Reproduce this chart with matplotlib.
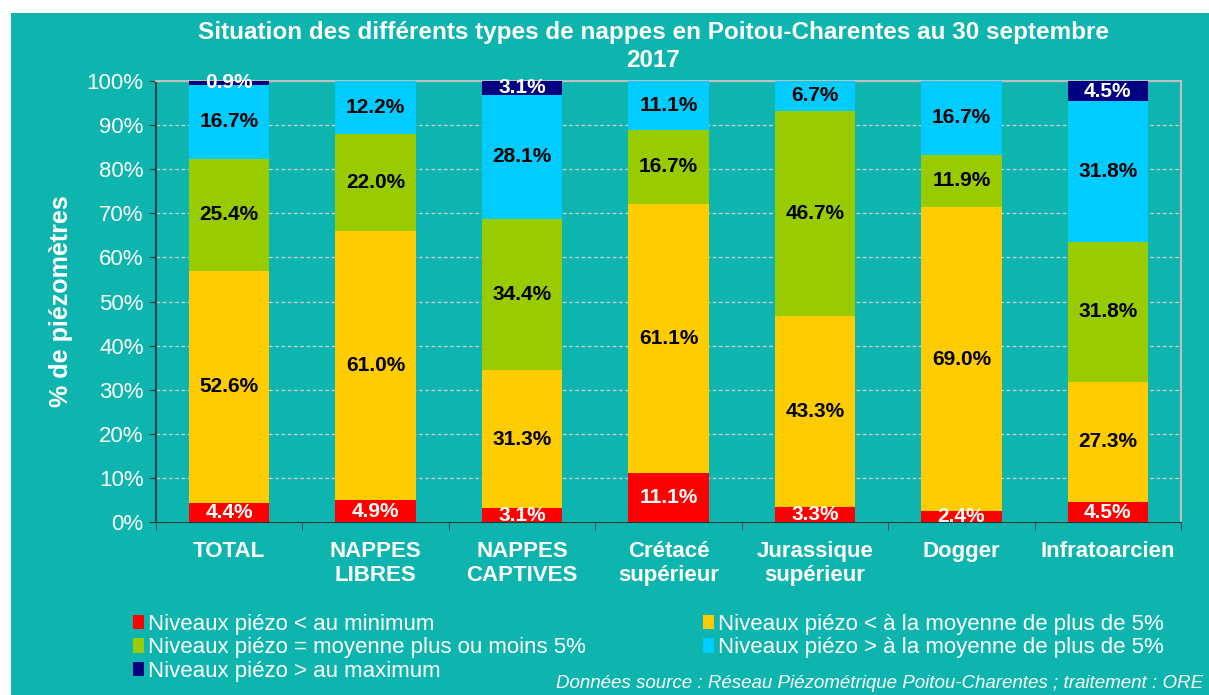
import numpy as np
import matplotlib.pyplot as plt
from matplotlib.patches import Rectangle, Patch

plt.rcParams['font.family'] = ['Liberation Sans', 'DejaVu Sans']

categories = ['TOTAL', 'NAPPES\nLIBRES', 'NAPPES\nCAPTIVES', 'Crétacé\nsupérieur',
              'Jurassique\nsupérieur', 'Dogger', 'Infratoarcien']
below_min = [4.4, 4.9, 3.1, 11.1, 3.3, 2.4, 4.5]
below_avg = [52.6, 61.0, 31.3, 61.1, 43.3, 69.0, 27.3]
around_avg = [25.4, 22.0, 34.4, 16.7, 46.7, 11.9, 31.8]
above_avg = [16.7, 12.2, 28.1, 11.1, 6.7, 16.7, 31.8]
above_max = [0.9, 0.0, 3.1, 0.0, 0.0, 0.0, 4.5]

series = [below_min, below_avg, around_avg, above_avg, above_max]
names = ['Niveaux piézo < au minimum',
         'Niveaux piézo < à la moyenne de plus de 5%',
         'Niveaux piézo = moyenne plus ou moins 5%',
         'Niveaux piézo > à la moyenne de plus de 5%',
         'Niveaux piézo > au maximum']
colors = ['#FF0000', '#FFCC00', '#99CC00', '#00CCFF', '#000080']
label_colors = ['white', 'black', 'black', 'black', 'white']

teal = '#0DB5AE'
fig = plt.figure(figsize=(12.09, 6.95), dpi=100, facecolor='white')
fig.patches.append(Rectangle((11 / 1209, 0), 1, 1 - 13 / 695, transform=fig.transFigure,
                             facecolor=teal, edgecolor='none', zorder=-10))

ax = fig.add_axes([156 / 1209, 1 - 522 / 695, 1025 / 1209, 441 / 695])
ax.set_facecolor(teal)

x = np.arange(len(categories))
bottom = np.zeros(len(categories))
for vals, col, lc in zip(series, colors, label_colors):
    vals = np.array(vals)
    ax.bar(x, vals, 0.55, bottom=bottom, color=col, zorder=3)
    for xi, v, b in zip(x, vals, bottom):
        if v > 0:
            ax.text(xi, b + v / 2, f'{v:.1f}%', ha='center', va='center',
                    color=lc, fontsize=15, fontweight='bold', zorder=4)
    bottom += vals

ax.set_xlim(-0.5, len(categories) - 0.5)
ax.set_ylim(0, 100)
ax.set_yticks(np.arange(0, 101, 10))
ax.set_yticklabels([f'{t}%' for t in range(0, 101, 10)], color='white', fontsize=16)
ax.set_xticks(x)
ax.set_xticklabels(categories, color='white', fontsize=16, fontweight='bold', linespacing=1.15)
ax.set_xticks(np.arange(-0.5, len(categories)), minor=True)
ax.tick_params(axis='x', which='major', length=0, pad=14)
ax.tick_params(axis='x', which='minor', length=6, color='#1a3a3a', direction='out')
ax.tick_params(axis='y', length=5, color='#1a3a3a', pad=4)
ax.grid(axis='y', color='#cfcfcf', linestyle=(0, (3, 2)), linewidth=0.9, zorder=1)
for s in ['top', 'right']:
    ax.spines[s].set_color('#c0c0c0')
    ax.spines[s].set_linewidth(1.5)
ax.spines['left'].set_color('#2a4a4a')
ax.spines['bottom'].set_color('#1a3a3a')
ax.spines['left'].set_linewidth(1.5)

ax.set_ylabel('% de piézomètres', color='white', fontsize=18, fontweight='bold', labelpad=10)

fig.text(653 / 1209, 1 - 21 / 695, 'Situation des différents types de nappes en Poitou-Charentes au 30 septembre\n2017',
         ha='center', va='top', color='white', fontsize=17.5, fontweight='bold', linespacing=1.3)

handles = [Patch(facecolor=c, edgecolor='none') for c in colors]
order = [0, 2, 4, 1, 3]
fig.legend([handles[i] for i in order], [names[i] for i in order], ncol=2,
           loc='upper left', bbox_to_anchor=(122 / 1209, 1 - 603 / 695),
           frameon=False, fontsize=16, labelcolor='white',
           handlelength=0.5, handleheight=0.6, handletextpad=0.15,
           labelspacing=0.1, columnspacing=5.3, borderpad=0)

fig.text(1203 / 1209, 1 - 684 / 695, 'Données source : Réseau Piézométrique Poitou-Charentes ; traitement : ORE',
         ha='right', va='center', color='white', fontsize=13.5, style='italic')

fig.savefig('out.png', dpi=100, facecolor=fig.get_facecolor())
